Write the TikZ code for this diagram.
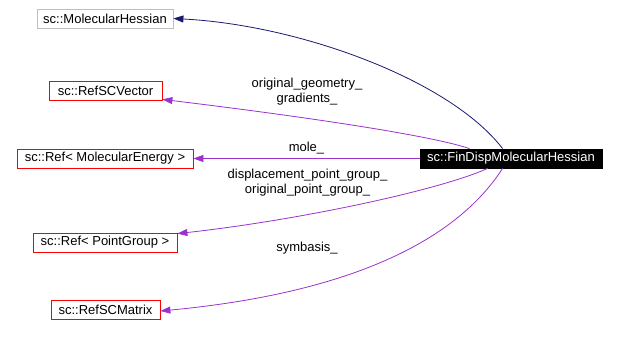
\documentclass[tikz,border=0pt]{standalone}
\usepackage{fontspec}
\setmainfont{Liberation Sans}
\usepackage{xcolor}
\usepackage{tikz}
\usetikzlibrary{positioning,arrows.meta}
\definecolor{edgepurple}{HTML}{9A32CD}
\definecolor{edgenavy}{HTML}{191970}

\begin{document}
\begin{tikzpicture}[x=1pt,y=-1pt,>={Triangle[length=10pt,width=7pt]},
  cls/.style={draw=red,line width=0.8pt,minimum height=19pt,inner sep=0pt,
    font=\fontsize{13}{15}\selectfont},
  lbl/.style={font=\fontsize{13}{15}\selectfont,align=center,inner sep=0pt},
  use/.style={->,edgepurple,line width=0.8pt}]
  \useasboundingbox (0,0) rectangle (617,340);
  % classes
  \node[cls,draw=gray!50,minimum width=136pt] (hessian) at (105,18.5) {sc::MolecularHessian};
  \node[cls,minimum width=113pt] (scvector) at (105.5,90.5) {sc::RefSCVector};
  \node[cls,minimum width=176pt] (energy) at (105,158.5) {sc::Ref\textless{} MolecularEnergy \textgreater};
  \node[cls,minimum width=144pt] (pointgroup) at (105,242.5) {sc::Ref\textless{} PointGroup \textgreater};
  \node[cls,minimum width=109pt] (scmatrix) at (105.5,309.5) {sc::RefSCMatrix};
  \node[cls,draw=black,fill=black,text=white,minimum width=182pt] (findisp) at (511,158.5) {sc::FinDispMolecularHessian};
  % edges
  \draw[->,edgenavy,line width=0.8pt] ([xshift=83]findisp.north west) .. controls (450,80) and (300,25) .. (hessian.east);
  \draw[use] ([xshift=50]findisp.north west) .. controls (420,132) and (250,110) .. ([yshift=1]scvector.south east);
  \draw[use] (findisp.west) -- (energy.east);
  \draw[use] ([xshift=68]findisp.south west) .. controls (440,190) and (300,220) .. ([yshift=-1]pointgroup.north east);
  \draw[use] ([xshift=83]findisp.south west) .. controls (450,250) and (330,295) .. ([yshift=-1.5]scmatrix.east);
  % labels
  \node[lbl] (geom) at (307,91.5) {original\_geometry\_\\gradients\_};
  \node[lbl] (mole) at (306.5,148) {mole\_};
  \node[lbl] (pg) at (307.5,182.5) {displacement\_point\_group\_\\original\_point\_group\_};
  \node[lbl] (symb) at (307,248) {symbasis\_};
\end{tikzpicture}
\end{document}
